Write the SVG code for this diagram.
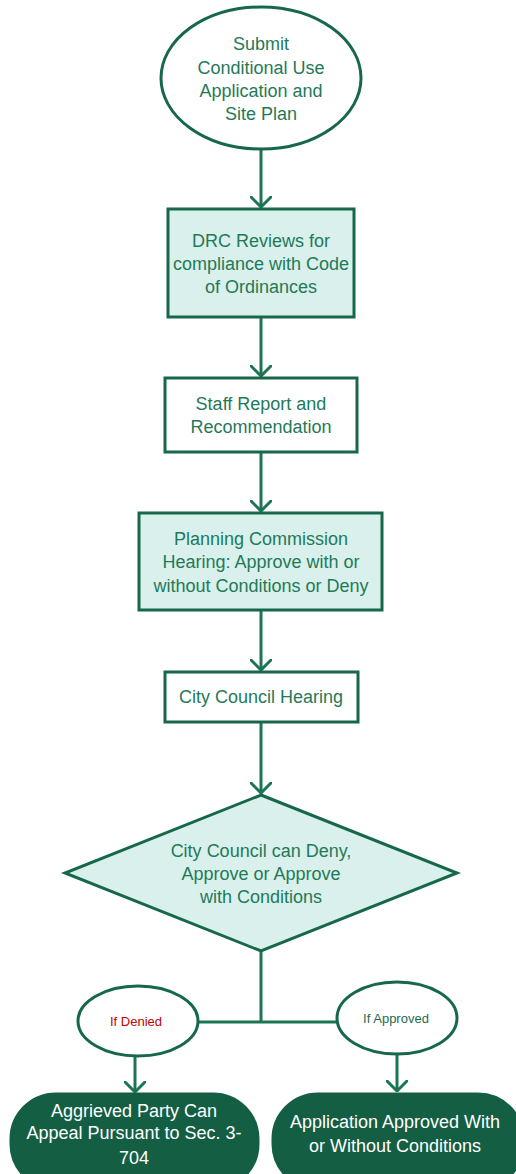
<svg xmlns="http://www.w3.org/2000/svg" width="516" height="1174" viewBox="0 0 516 1174">
<style>
.shape{stroke:#17684a;stroke-width:3}
.light{fill:#d9f0ec}
.white{fill:#ffffff}
.dark{fill:#145e43;stroke:#145e43}
.t{font-family:"Liberation Sans",Arial,sans-serif;font-size:18px;fill:#1f7a58;text-anchor:middle}
.tw{font-family:"Liberation Sans",Arial,sans-serif;font-size:18px;fill:#ffffff;text-anchor:middle}
.ts{font-family:"Liberation Sans",Arial,sans-serif;font-size:13px;text-anchor:middle}
.conn{stroke:#1b7553;stroke-width:3;fill:none}
</style>
<defs>
<marker id="arr" viewBox="0 0 12 22" refX="11" refY="11" markerWidth="12" markerHeight="22" markerUnits="userSpaceOnUse" orient="auto">
<path d="M1,1 L11,11 L1,21" fill="none" stroke="#1b7553" stroke-width="3" stroke-linejoin="round" stroke-linecap="round"/>
</marker>
</defs>
<rect width="516" height="1174" fill="#ffffff"/>
<g id="connectors">
<line class="conn" x1="261" y1="150" x2="261" y2="207" marker-end="url(#arr)"/>
<line class="conn" x1="261" y1="318" x2="261" y2="376" marker-end="url(#arr)"/>
<line class="conn" x1="261" y1="453" x2="261" y2="511" marker-end="url(#arr)"/>
<line class="conn" x1="261" y1="611" x2="261" y2="670" marker-end="url(#arr)"/>
<line class="conn" x1="261" y1="722" x2="261" y2="793" marker-end="url(#arr)"/>
<line class="conn" x1="261" y1="951" x2="261" y2="1022"/>
<line class="conn" x1="197" y1="1022" x2="338" y2="1022"/>
<line class="conn" x1="135" y1="1056" x2="135" y2="1092" marker-end="url(#arr)"/>
<line class="conn" x1="397" y1="1054" x2="397" y2="1091" marker-end="url(#arr)"/>
</g>
<g id="submit">
<ellipse class="shape white" cx="261" cy="78" rx="100" ry="71"/>
<text class="t" x="261" y="50">Submit</text>
<text class="t" x="261" y="74">Conditional Use</text>
<text class="t" x="261" y="97">Application and</text>
<text class="t" x="261" y="120">Site Plan</text>
</g>
<g id="drc">
<rect class="shape light" x="168" y="209" width="186" height="108"/>
<text class="t" x="261" y="247">DRC Reviews for</text>
<text class="t" x="261" y="270">compliance with Code</text>
<text class="t" x="261" y="293">of Ordinances</text>
</g>
<g id="staff">
<rect class="shape white" x="165" y="378" width="192" height="74"/>
<text class="t" x="261" y="410">Staff Report and</text>
<text class="t" x="261" y="433">Recommendation</text>
</g>
<g id="planning">
<rect class="shape light" x="139" y="513" width="243" height="97"/>
<text class="t" x="261" y="545">Planning Commission</text>
<text class="t" x="261" y="568">Hearing: Approve with or</text>
<text class="t" x="261" y="592">without Conditions or Deny</text>
</g>
<g id="council">
<rect class="shape white" x="165" y="672" width="193" height="50"/>
<text class="t" x="261" y="703">City Council Hearing</text>
</g>
<g id="decision">
<polygon class="shape light" points="261,795 457,873 261,951 65,873"/>
<text class="t" x="261" y="857">City Council can Deny,</text>
<text class="t" x="261" y="880">Approve or Approve</text>
<text class="t" x="261" y="903">with Conditions</text>
</g>
<g id="denied">
<ellipse class="shape white" cx="138" cy="1021" rx="60" ry="35"/>
<text class="ts" x="136" y="1026" fill="#c00000">If Denied</text>
</g>
<g id="approved">
<ellipse class="shape white" cx="397" cy="1018" rx="60" ry="36"/>
<text class="ts" x="396" y="1023" fill="#1f6b4d">If Approved</text>
</g>
<g id="appeal">
<rect class="shape dark" x="11" y="1094" width="247" height="95" rx="45"/>
<text class="tw" x="134" y="1117">Aggrieved Party Can</text>
<text class="tw" x="134" y="1139">Appeal Pursuant to Sec. 3-</text>
<text class="tw" x="134" y="1164">704</text>
</g>
<g id="approvedresult">
<rect class="shape dark" x="273" y="1094" width="250" height="95" rx="45"/>
<text class="tw" x="395" y="1128">Application Approved With</text>
<text class="tw" x="395" y="1152">or Without Conditions</text>
</g>
</svg>
